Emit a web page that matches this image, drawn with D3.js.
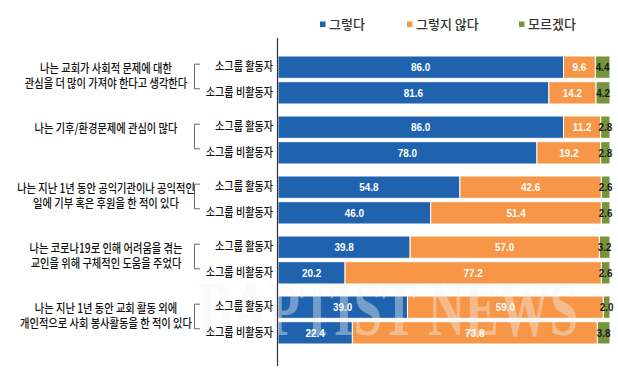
<!DOCTYPE html>
<html>
<head>
<meta charset="utf-8">
<script src="https://cdn.jsdelivr.net/npm/d3@7"></script>
<style>
  body { margin: 0; background: #fff; }
  svg { display: block; }
</style>
</head>
<body>
<div id="chart"></div>
<script>
// questions (two lines each where the original wraps)
var questions = [
    ["나는 교회가 사회적 문제에 대한", "관심을 더 많이 가져야 한다고 생각한다"],
    ["나는 기후/환경문제에 관심이 많다"],
    ["나는 지난 1년 동안 공익기관이나 공익적인", "일에 기부 혹은 후원을 한 적이 있다"],
    ["나는 코로나19로 인해 어려움을 겪는", "교인을 위해 구체적인 도움을 주었다"],
    ["나는 지난 1년 동안 교회 활동 외에", "개인적으로 사회 봉사활동을 한 적이 있다"]
];
var groups = ["소그룹 활동자", "소그룹 비활동자"];
var seriesNames = ["그렇다", "그렇지 않다", "모르겠다"];

// per row: q1 active, q1 inactive, q2 active, ...
var yesVals   = [86.0, 81.6, 86.0, 78.0, 54.8, 46.0, 39.8, 20.2, 39.0, 22.4];
var noVals    = [9.6, 14.2, 11.2, 19.2, 42.6, 51.4, 57.0, 77.2, 59.0, 73.8];
var dunnoVals = [4.4, 4.2, 2.8, 2.8, 2.6, 2.6, 3.2, 2.6, 2.0, 3.8];

var width = 618, height = 371;
var colors = ["#1f63ae", "#f79646", "#77933c"];
var korFont = "'Noto Sans CJK KR', 'Noto Sans', sans-serif";
var numFont = "'Liberation Sans', Arial, sans-serif";

var rows = [];
questions.forEach(function (q, qi) {
    groups.forEach(function (g, gi) {
        var i = qi * 2 + gi;
        rows.push({q: qi, group: g, s0: yesVals[i], s1: noVals[i], s2: dunnoVals[i]});
    });
});

var svg = d3.select("#chart").append("svg")
    .attr("width", width)
    .attr("height", height);

var x = d3.scaleLinear().domain([0, 100]).range([278, 610]);
var y0 = d3.scaleBand().domain(d3.range(questions.length)).range([50, 350]);
var y1 = d3.scaleBand().domain(groups).range([6, 54]).paddingInner(0.13);

function rowY(d) { return y0(d.q) + y1(d.group); }

// squeeze text horizontally (the original uses a narrow face)
function condense(sel, k) {
    sel.each(function () {
        var w = this.getComputedTextLength();
        d3.select(this).attr("textLength", w * k).attr("lengthAdjust", "spacingAndGlyphs");
    });
}

var stack = d3.stack().keys(["s0", "s1", "s2"]);
var layers = stack(rows);

// bars
var layer = svg.selectAll("g.layer")
    .data(layers)
    .enter().append("g")
    .attr("class", "layer")
    .attr("fill", function (d, i) { return colors[i]; });

layer.selectAll("rect")
    .data(function (d) { return d; })
    .enter().append("rect")
    .attr("x", function (d) { return x(d[0]); })
    .attr("y", function (d) { return rowY(d.data); })
    .attr("width", function (d) { return x(d[1]) - x(d[0]); })
    .attr("height", y1.bandwidth())
    .attr("stroke", "#fff")
    .attr("stroke-width", 1);

// watermark
svg.append("text")
    .attr("x", 198)
    .attr("y", 335)
    .attr("font-family", "'Liberation Serif', serif")
    .attr("font-weight", "bold")
    .attr("font-size", 78)
    .attr("fill", "#f4f4f4")
    .attr("opacity", 0.4)
    .attr("textLength", 380)
    .attr("lengthAdjust", "spacingAndGlyphs")
    .text("BAPTIST NEWS");

// value labels
layer.each(function (L, li) {
    var t = d3.select(this).selectAll("text")
        .data(L)
        .enter().append("text")
        .attr("x", function (d) { return (x(d[0]) + x(d[1])) / 2; })
        .attr("y", function (d) { return rowY(d.data) + y1.bandwidth() / 2; })
        .attr("dy", "0.36em")
        .attr("text-anchor", "middle")
        .attr("font-family", numFont)
        .attr("font-weight", "bold")
        .attr("font-size", 11)
        .attr("fill", li === 2 ? "#1a1a1a" : "#fff")
        .text(function (d) { return (d[1] - d[0]).toFixed(1); });
    condense(t, 0.9);
});

// axis line
svg.append("line")
    .attr("x1", 277.5).attr("x2", 277.5)
    .attr("y1", 38).attr("y2", 366)
    .attr("stroke", "#333")
    .attr("stroke-width", 1.2);

// sub labels
var sub = svg.selectAll("text.sub")
    .data(rows)
    .enter().append("text")
    .attr("class", "sub")
    .attr("x", 273)
    .attr("y", function (d) { return rowY(d) + y1.bandwidth() / 2; })
    .attr("dy", "0.36em")
    .attr("text-anchor", "end")
    .attr("font-family", korFont)
    .attr("font-weight", 500)
    .attr("font-size", 12)
    .attr("fill", "#111")
    .text(function (d) { return d.group; });
condense(sub, 0.84);

// brackets
questions.forEach(function (q, qi) {
    var top = y0(qi) + y1(groups[0]) + y1.bandwidth() / 2 - 3;
    var bot = y0(qi) + y1(groups[1]) + y1.bandwidth() / 2 - 4;
    svg.append("path")
        .attr("d", "M200," + top + "H194.5V" + bot + "H200")
        .attr("fill", "none")
        .attr("stroke", "#666")
        .attr("stroke-width", 1);
});

// question labels
questions.forEach(function (q, qi) {
    var c = y0(qi) + y0.bandwidth() / 2;
    var t = svg.append("g").selectAll("text")
        .data(q)
        .enter().append("text")
        .attr("x", 106)
        .attr("y", function (d, i) { return c - 12 + i * 15; })
        .attr("dy", "0.36em")
        .attr("text-anchor", "middle")
        .attr("font-family", korFont)
        .attr("font-weight", 500)
        .attr("font-size", 12.5)
        .attr("fill", "#111")
        .text(function (d) { return d; });
    condense(t, 0.82);
});

// legend
var legendX = [320, 407, 519];
var legend = svg.selectAll("g.legend")
    .data(seriesNames)
    .enter().append("g")
    .attr("class", "legend")
    .attr("transform", function (d, i) { return "translate(" + legendX[i] + ",24)"; });

legend.append("rect")
    .attr("x", 0).attr("y", -2.5)
    .attr("width", 5.5).attr("height", 5.5)
    .attr("fill", function (d, i) { return colors[i]; });

legend.append("text")
    .attr("x", 9)
    .attr("dy", "0.36em")
    .attr("font-family", korFont)
    .attr("font-weight", 500)
    .attr("font-size", 13)
    .attr("fill", "#333")
    .text(function (d) { return d; });
</script>
</body>
</html>
